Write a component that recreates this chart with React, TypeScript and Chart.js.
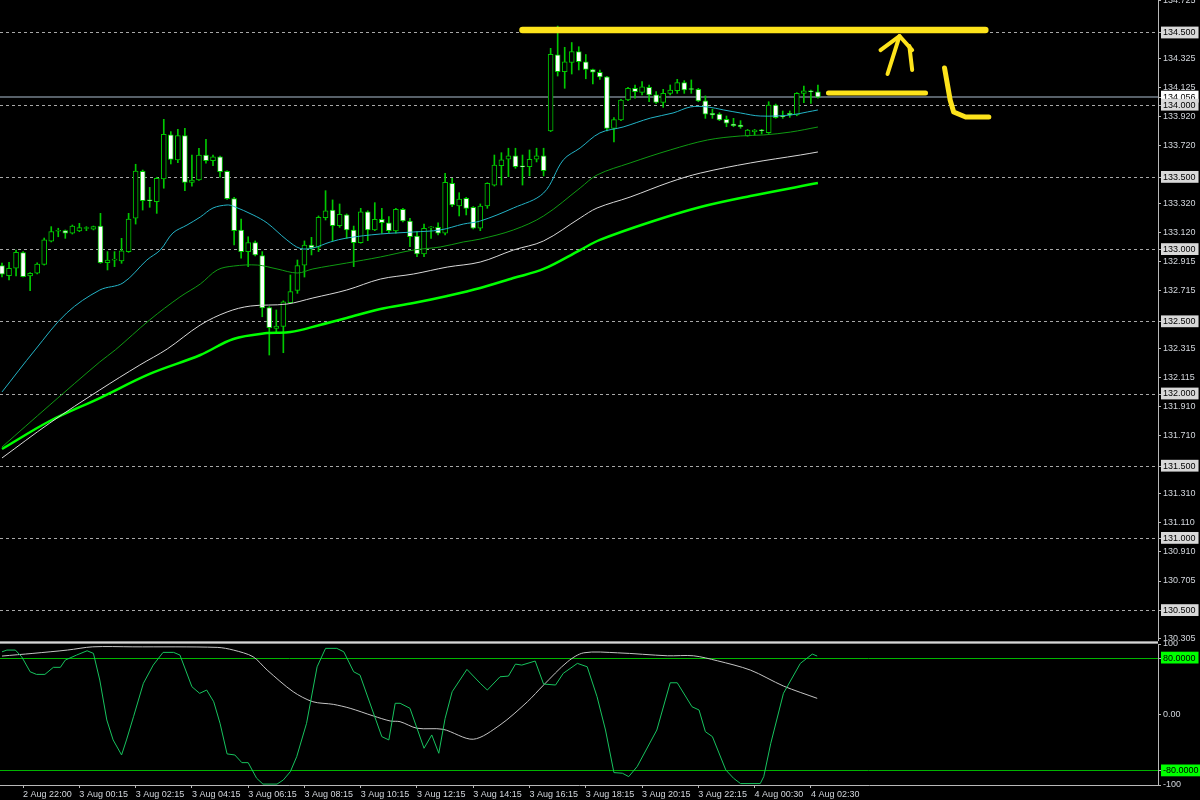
import React, { useEffect, useRef } from 'react';
import { Chart, registerables } from 'chart.js';

Chart.register(...registerables);

// ---------- candles (15 min bars, index 0 = 2 Aug 21:15) ----------
const opens = [
  132.889, 132.819, 132.871, 132.979, 132.817, 132.836, 132.898, 133.058, 133.127, 133.131,
  133.113, 133.129, 133.146, 133.141, 133.163, 132.909, 132.927, 132.921, 132.986, 133.217,
  133.542, 133.343, 133.332, 133.489, 133.794, 133.621, 133.789, 133.466, 133.482, 133.655,
  133.616, 133.643, 133.542, 133.353, 133.136, 132.986, 133.048, 132.959, 132.598, 132.455,
  132.468, 132.632, 132.717, 132.893, 133.032, 133.016, 133.221, 133.274, 133.166, 133.240,
  133.136, 133.048, 133.262, 133.136, 133.210, 133.186, 133.129, 133.279, 133.198, 133.094,
  132.970, 133.150, 133.154, 133.113, 133.459, 133.302, 133.355, 133.293, 133.148, 133.302,
  133.447, 133.581, 133.627, 133.650, 133.576, 133.574, 133.627, 133.650, 133.821, 134.348,
  134.232, 134.297, 134.371, 134.301, 134.246, 134.228, 134.197, 133.840, 133.898, 134.036,
  134.117, 134.089, 134.124, 134.071, 134.020, 134.082, 134.100, 134.156, 134.111, 134.110,
  134.031, 133.944, 133.939, 133.902, 133.870, 133.863, 133.787, 133.817, 133.825, 133.810,
  134.001, 133.922, 133.944, 133.932, 134.082, 134.095, 134.093,
];
const highs = [
  132.907, 132.912, 132.997, 132.986, 132.840, 132.909, 133.080, 133.159, 133.148, 133.136,
  133.170, 133.182, 133.159, 133.163, 133.251, 132.986, 132.986, 133.078, 133.251, 133.591,
  133.551, 133.431, 133.501, 133.902, 133.817, 133.833, 133.840, 133.655, 133.702, 133.764,
  133.655, 133.648, 133.546, 133.362, 133.212, 133.089, 133.060, 132.986, 132.605, 132.582,
  132.645, 132.824, 132.928, 133.060, 133.085, 133.233, 133.408, 133.344, 133.316, 133.247,
  133.163, 133.286, 133.269, 133.325, 133.286, 133.228, 133.286, 133.286, 133.217, 133.124,
  133.177, 133.159, 133.186, 133.528, 133.494, 133.394, 133.362, 133.298, 133.316, 133.463,
  133.655, 133.671, 133.702, 133.702, 133.655, 133.690, 133.702, 133.702, 134.394, 134.548,
  134.401, 134.434, 134.405, 134.351, 134.250, 134.244, 134.200, 133.915, 134.041, 134.124,
  134.140, 134.163, 134.140, 134.094, 134.110, 134.140, 134.179, 134.170, 134.175, 134.117,
  134.064, 133.972, 133.948, 133.925, 133.909, 133.893, 133.832, 133.832, 133.833, 134.024,
  134.008, 133.960, 133.960, 134.087, 134.133, 134.105, 134.140,
];
const lows = [
  132.810, 132.790, 132.817, 132.810, 132.715, 132.831, 132.893, 133.053, 133.089, 133.078,
  133.108, 133.124, 133.131, 133.136, 132.905, 132.859, 132.882, 132.905, 132.981, 133.177,
  133.274, 133.293, 133.251, 133.425, 133.593, 133.602, 133.408, 133.440, 133.479, 133.598,
  133.581, 133.501, 133.348, 133.032, 132.940, 132.882, 132.956, 132.535, 132.270, 132.420,
  132.286, 132.628, 132.697, 132.810, 132.963, 132.986, 133.205, 133.062, 133.154, 133.078,
  132.882, 133.044, 133.062, 133.131, 133.113, 133.113, 133.113, 133.191, 133.020, 132.951,
  132.951, 133.078, 133.101, 133.101, 133.297, 133.233, 133.240, 133.143, 133.131, 133.286,
  133.440, 133.447, 133.505, 133.563, 133.447, 133.510, 133.607, 133.510, 133.817, 134.202,
  134.117, 134.216, 134.244, 134.183, 134.147, 134.179, 133.821, 133.745, 133.893, 134.031,
  134.048, 134.071, 134.024, 134.013, 133.985, 134.071, 134.082, 134.082, 134.082, 134.024,
  133.909, 133.909, 133.893, 133.851, 133.851, 133.840, 133.785, 133.794, 133.801, 133.805,
  133.909, 133.909, 133.916, 133.927, 134.017, 134.013, 134.048,
];
const closes = [
  132.829, 132.871, 132.981, 132.812, 132.836, 132.900, 133.067, 133.124, 133.129, 133.113,
  133.163, 133.152, 133.148, 133.159, 132.909, 132.928, 132.930, 132.992, 133.212, 133.544,
  133.339, 133.338, 133.494, 133.798, 133.625, 133.789, 133.466, 133.482, 133.655, 133.616,
  133.643, 133.540, 133.353, 133.131, 132.986, 133.048, 132.963, 132.596, 132.459, 132.471,
  132.639, 132.709, 132.889, 133.032, 133.011, 133.224, 133.269, 133.166, 133.244, 133.136,
  133.048, 133.262, 133.136, 133.210, 133.186, 133.131, 133.279, 133.198, 133.089, 132.970,
  133.148, 133.153, 133.113, 133.466, 133.309, 133.350, 133.286, 133.148, 133.302, 133.459,
  133.586, 133.621, 133.650, 133.574, 133.573, 133.625, 133.650, 133.546, 134.352, 134.232,
  134.301, 134.372, 134.301, 134.247, 134.228, 134.195, 133.840, 133.900, 134.036, 134.117,
  134.094, 134.128, 134.071, 134.020, 134.082, 134.105, 134.156, 134.105, 134.109, 134.029,
  133.937, 133.932, 133.898, 133.875, 133.858, 133.851, 133.828, 133.828, 133.823, 134.001,
  133.913, 133.920, 133.932, 134.082, 134.100, 134.093, 134.056,
];

const bidPrice = 134.056;

// ---------- moving averages (bar index, price) ----------
const maCyanIdx = [0, 4.7, 9.2, 13.9, 17.2, 20.6, 22.5, 24.3, 26.3, 28.2, 30, 32, 32.9, 35.7, 37.7, 40.5, 42.4, 44.2, 46.7, 49, 53.8, 58.5, 62.3, 65.6, 68, 72.7, 77, 79.8, 82.2, 85, 88.3, 92.2, 95.4, 97.9, 100.3, 102.6, 105, 107.8, 112.1, 114.5, 116];
const maCyanVal = [132.014, 132.305, 132.561, 132.720, 132.769, 132.928, 132.997, 133.115, 133.170, 133.226, 133.288, 133.309, 133.300, 133.240, 133.184, 133.067, 133.008, 133.011, 133.053, 133.080, 133.108, 133.122, 133.136, 133.177, 133.198, 133.288, 133.392, 133.621, 133.704, 133.808, 133.849, 133.911, 133.946, 133.988, 133.988, 133.967, 133.946, 133.925, 133.932, 133.953, 133.967];

const maGreenIdx = [0, 6.8, 13.9, 16.1, 21, 25.3, 28.2, 30.6, 32.9, 36.3, 39.1, 42, 44.2, 49, 53.8, 58.5, 62.3, 65.6, 68, 72.7, 77, 82.2, 84.6, 89.3, 95, 100.3, 105, 108.3, 112.1, 116];
const maGreenVal = [131.633, 131.924, 132.222, 132.305, 132.513, 132.672, 132.762, 132.859, 132.886, 132.893, 132.866, 132.838, 132.866, 132.907, 132.949, 132.997, 133.018, 133.053, 133.073, 133.136, 133.233, 133.427, 133.517, 133.600, 133.690, 133.759, 133.787, 133.794, 133.814, 133.849];

const maWhiteIdx = [0, 6.8, 13.9, 19.6, 23.5, 28.2, 32, 35.3, 40.5, 44.2, 49, 53.8, 58.5, 63.3, 68, 72.7, 77, 82.2, 84.6, 89.3, 95, 99.3, 106.4, 113.5, 116];
const maWhiteVal = [131.557, 131.799, 132.028, 132.201, 132.312, 132.478, 132.568, 132.609, 132.623, 132.665, 132.720, 132.796, 132.831, 132.879, 132.914, 132.997, 133.060, 133.219, 133.288, 133.364, 133.468, 133.530, 133.600, 133.655, 133.676];

const maLimeIdx = [0, 6.8, 13.9, 21, 28.2, 32.9, 37.7, 41, 45.2, 49, 53.8, 58.5, 63.3, 68, 72.7, 77, 82.2, 85, 92.2, 99.3, 106.4, 116];
const maLimeVal = [131.619, 131.813, 131.972, 132.139, 132.270, 132.381, 132.422, 132.429, 132.478, 132.526, 132.589, 132.630, 132.679, 132.734, 132.803, 132.866, 132.997, 133.067, 133.191, 133.295, 133.371, 133.461];

// ---------- oscillator ----------
const oscGreenIdx = [0, 0.7, 1.9, 2.8, 4.0, 4.9, 6.1, 7.3, 8.3, 9.0, 10.6, 12.1, 13.0, 13.9, 14.9, 15.8, 17.0, 17.7, 18.7, 20.1, 21.5, 22.9, 24.4, 25.3, 27.0, 28.1, 29.1, 30.1, 31.0, 32.0, 33.1, 34.1, 35.0, 36.2, 37.1, 39.1, 40.0, 41.0, 41.9, 43.3, 44.8, 46.0, 47.6, 48.6, 50.0, 50.9, 51.9, 54.0, 55.0, 55.9, 56.6, 58.0, 60.0, 61.1, 62.1, 63.0, 64.0, 66.1, 68.0, 69.0, 70.8, 72.0, 73.0, 73.9, 75.8, 77.0, 78.7, 79.8, 81.8, 83.2, 84.6, 85.8, 87.0, 88.2, 89.1, 90.3, 93.1, 95.0, 96.0, 98.1, 99.1, 100.0, 101.0, 102.9, 104.0, 105.0, 107.8, 108.3, 109.3, 111.1, 113.5, 115.2, 115.9];
const oscGreenVal = [88.9, 91.4, 91.4, 81.9, 60.6, 56.9, 56.9, 66.9, 66.9, 77.2, 84.3, 90.4, 86.7, 48.9, -7.8, -36.1, -57.4, -36.1, -3.1, 44.2, 70.1, 88.1, 88.1, 84.3, 39.4, 30.0, 34.7, 18.1, -12.5, -55.9, -57.4, -68.3, -68.3, -90.4, -98.7, -98.7, -92.8, -81.0, -59.8, -12.5, 67.7, 93.8, 93.8, 88.9, 60.6, 55.9, 27.6, -31.4, -36.1, 15.9, 15.9, 8.8, -47.9, -29.0, -55.0, -5.4, 32.3, 64.0, 44.2, 34.7, 53.5, 54.5, 71.5, 70.1, 75.8, 43.2, 41.8, 58.4, 72.5, 67.7, 25.2, -22.0, -82.4, -83.3, -88.1, -73.9, -22.0, 45.0, 45.0, 11.0, 6.4, -24.4, -31.4, -78.6, -90.4, -98.0, -98.0, -88.1, -40.8, 30.0, 72.5, 85.7, 82.9];

const oscSilverIdx = [0, 4.4, 9.3, 12.9, 18.6, 30.6, 32.9, 35.7, 37.7, 41.4, 44.2, 47.1, 49.5, 52.8, 55.2, 56.6, 59.0, 62.7, 67.0, 70.8, 74.7, 77.0, 80.4, 82.7, 87.5, 94.6, 98.3, 101.7, 106.4, 111.1, 115.9];
const oscSilverVal = [82.9, 86.7, 91.4, 96, 96, 95.2, 91.4, 81.9, 63, 32.3, 18.1, 14.4, 8.8, -2.1, -9.2, -10.2, -19.5, -21, -35.1, -14.9, 18.1, 41.8, 74.8, 87.5, 87.5, 83.3, 83.3, 76.2, 63, 40.4, 22.9];

// ---------- axes ----------
const priceTicks = [134.725, 134.5, 134.325, 134.125, 134.056, 134.0, 133.92, 133.72, 133.5, 133.32, 133.12, 133.0, 132.915, 132.715, 132.5, 132.315, 132.115, 132.0, 131.91, 131.71, 131.5, 131.31, 131.11, 131.0, 130.91, 130.705, 130.5, 130.305];
const roundLevels = [134.5, 134.0, 133.5, 133.0, 132.5, 132.0, 131.5, 131.0, 130.5];
const priceMin = 130.2895;
const priceMax = 134.7285;

const timeTickIndex = [3, 11, 19, 27, 35, 43, 51, 59, 67, 75, 83, 91, 99, 107, 115];
const timeTickLabels = ['2 Aug 22:00', '3 Aug 00:15', '3 Aug 02:15', '3 Aug 04:15', '3 Aug 06:15', '3 Aug 08:15', '3 Aug 10:15', '3 Aug 12:15', '3 Aug 14:15', '3 Aug 16:15', '3 Aug 18:15', '3 Aug 20:15', '3 Aug 22:15', '4 Aug 00:30', '4 Aug 02:30'];
const xMin = -0.284;
const xMax = 164.35;

const oscTickValues = [100, 80, 0, -80, -100];
const oscTickLabels = ['100', '80.0000', '0.00', '-80.0000', '-100'];
const oscLevels = [80, -80];

// ---------- hand-drawn yellow annotations (bar index, price) ----------
const noteTopIdx = [74, 139.8];
const noteTopPrice = [134.521, 134.521];
const noteShortIdx = [117.5, 131.3];
const noteShortPrice = [134.084, 134.084];
const arrowShaftIdx = [125.9, 127.6];
const arrowShaftPrice = [134.216, 134.479];
const arrowHeadIdx = [124.9, 127.6, 129.4];
const arrowHeadPrice = [134.382, 134.479, 134.382];
const arrowLegIdx = [129.0, 129.4];
const arrowLegPrice = [134.41, 134.244];
const letterLIdx = [134, 134.8, 135.3, 137, 140.3];
const letterLPrice = [134.258, 134.036, 133.953, 133.918, 133.918];

const FONT = 'Liberation Sans';
const near = (a: number, b: number) => Math.abs(a - b) < 1e-6;
const pairs = (xs: number[], ys: number[]) => xs.map((x, i) => ({ x, y: ys[i] }));

export default function App() {
  const mainRef = useRef<HTMLCanvasElement | null>(null);
  const oscRef = useRef<HTMLCanvasElement | null>(null);

  useEffect(() => {
    document.body.style.margin = '0';
    document.body.style.background = '#000';
    Chart.defaults.font.family = FONT;

    const strokes = [
      { idx: noteTopIdx, price: noteTopPrice, w: 6.5 },
      { idx: noteShortIdx, price: noteShortPrice, w: 5 },
      { idx: arrowShaftIdx, price: arrowShaftPrice, w: 4 },
      { idx: arrowHeadIdx, price: arrowHeadPrice, w: 4 },
      { idx: arrowLegIdx, price: arrowLegPrice, w: 4 },
      { idx: letterLIdx, price: letterLPrice, w: 5 },
    ];

    const notesPlugin = {
      id: 'notes',
      afterDatasetsDraw(chart: any) {
        const { ctx } = chart;
        const xs = chart.scales.x;
        const ys = chart.scales.y;
        ctx.save();
        ctx.strokeStyle = '#fde31b';
        ctx.lineCap = 'round';
        ctx.lineJoin = 'round';
        strokes.forEach((s) => {
          ctx.lineWidth = s.w;
          ctx.beginPath();
          s.idx.forEach((v, k) => {
            const px = xs.getPixelForValue(v);
            const py = ys.getPixelForValue(s.price[k]);
            if (k === 0) ctx.moveTo(px, py);
            else ctx.lineTo(px, py);
          });
          ctx.stroke();
        });
        ctx.restore();
      },
    };

    const candleIdx = opens.map((_, i) => i);
    const CANDLE = '#00c800';

    const main = new Chart(mainRef.current as HTMLCanvasElement, {
      type: 'bar',
      data: {
        datasets: [
          { type: 'line', data: pairs(maCyanIdx, maCyanVal), borderColor: '#23b3c6', borderWidth: 1, pointRadius: 0, tension: 0.35, order: 0 } as any,
          { type: 'line', data: pairs(maGreenIdx, maGreenVal), borderColor: '#0f9a12', borderWidth: 1, pointRadius: 0, tension: 0.35, order: 0 } as any,
          { type: 'line', data: pairs(maWhiteIdx, maWhiteVal), borderColor: '#d8d8d8', borderWidth: 1, pointRadius: 0, tension: 0.35, order: 0 } as any,
          { type: 'line', data: pairs(maLimeIdx, maLimeVal), borderColor: '#00ff00', borderWidth: 2.5, pointRadius: 0, tension: 0.35, order: 0 } as any,
          {
            type: 'bar',
            data: candleIdx.map((i) => ({ x: i, y: [opens[i], closes[i]] })),
            backgroundColor: (c: any) => {
              const r = c.raw;
              return r && r.y[1] >= r.y[0] ? '#000000' : '#ffffff';
            },
            borderColor: CANDLE,
            borderWidth: 1,
            borderSkipped: false,
            barThickness: 5,
            minBarLength: 1,
            grouped: false,
            order: 5,
          } as any,
          {
            type: 'bar',
            data: candleIdx.map((i) => ({ x: i, y: [lows[i], highs[i]] })),
            backgroundColor: CANDLE,
            borderWidth: 0,
            barThickness: 1,
            grouped: false,
            order: 6,
          } as any,
          {
            type: 'line',
            data: [{ x: xMin, y: bidPrice }, { x: xMax, y: bidPrice }],
            borderColor: '#74808c',
            borderWidth: 1.5,
            pointRadius: 0,
            order: 10,
          } as any,
        ],
      },
      options: {
        responsive: true,
        maintainAspectRatio: false,
        animation: false,
        events: [],
        layout: { padding: 0 },
        plugins: { legend: { display: false }, tooltip: { enabled: false } },
        scales: {
          x: { type: 'linear', min: xMin, max: xMax, display: false, offset: false },
          y: {
            type: 'linear',
            position: 'right',
            min: priceMin,
            max: priceMax,
            afterBuildTicks: (s: any) => {
              s.ticks = priceTicks.map((v) => ({ value: v }));
            },
            afterFit: (s: any) => {
              s.width = 42;
              s.paddingTop = 0;
              s.paddingBottom = 0;
            },
            ticks: {
              autoSkip: false,
              padding: 2,
              font: { family: FONT, size: 9 },
              callback: (v: any) => Number(v).toFixed(3),
              color: (c: any) => {
                const v = c.tick ? c.tick.value : 0;
                return roundLevels.some((r) => near(r, v)) || near(v, bidPrice) ? '#000000' : '#d2d6dc';
              },
              showLabelBackdrop: (c: any) => {
                const v = c.tick ? c.tick.value : 0;
                return roundLevels.some((r) => near(r, v)) || near(v, bidPrice);
              },
              backdropColor: (c: any) => {
                const v = c.tick ? c.tick.value : 0;
                return near(v, bidPrice) ? '#ffffff' : '#d8d8d8';
              },
              backdropPadding: { top: 1, bottom: 0, left: 2, right: 3 },
            } as any,
            grid: {
              color: (c: any) => {
                const v = c.tick ? c.tick.value : 0;
                return roundLevels.some((r) => near(r, v)) ? '#a8a8a8' : 'rgba(0,0,0,0)';
              },
              lineWidth: 1,
              drawTicks: true,
              tickLength: 3,
              tickColor: '#b8b8b8',
            },
            border: { display: true, color: '#b8b8b8', width: 1, dash: [3, 3] },
          } as any,
        },
      },
      plugins: [notesPlugin],
    });

    const separatorPlugin = {
      id: 'separator',
      beforeDatasetsDraw(chart: any) {
        const { ctx, chartArea } = chart;
        ctx.save();
        ctx.fillStyle = '#8c8c8c';
        ctx.fillRect(0, 0, chartArea.right, 3);
        ctx.fillStyle = '#d6d6d6';
        ctx.fillRect(0, 1, chartArea.right, 1);
        ctx.restore();
      },
    };

    const osc = new Chart(oscRef.current as HTMLCanvasElement, {
      type: 'line',
      data: {
        datasets: [
          { data: pairs(oscGreenIdx, oscGreenVal), borderColor: '#17c35e', borderWidth: 1, pointRadius: 0, tension: 0, order: 0 },
          { data: pairs(oscSilverIdx, oscSilverVal), borderColor: '#c4c4c4', borderWidth: 1, pointRadius: 0, tension: 0.3, order: 1 },
        ],
      },
      options: {
        responsive: true,
        maintainAspectRatio: false,
        animation: false,
        events: [],
        layout: { padding: { top: 3, left: 0, right: 0, bottom: 0 } },
        plugins: { legend: { display: false }, tooltip: { enabled: false } },
        scales: {
          x: {
            type: 'linear',
            position: 'bottom',
            min: xMin,
            max: xMax,
            afterBuildTicks: (s: any) => {
              s.ticks = timeTickIndex.map((v) => ({ value: v }));
            },
            afterFit: (s: any) => {
              s.height = 15;
              s.paddingLeft = 0;
              s.paddingRight = 0;
            },
            ticks: {
              autoSkip: false,
              maxRotation: 0,
              minRotation: 0,
              align: 'start',
              padding: 1,
              color: '#d2d6dc',
              font: { family: FONT, size: 9 },
              callback: (_v: any, i: number) => timeTickLabels[i] ?? '',
            },
            grid: { drawOnChartArea: false, drawTicks: true, tickLength: 3, tickColor: '#b8b8b8' },
            border: { display: true, color: '#b8b8b8' },
          } as any,
          y: {
            type: 'linear',
            position: 'right',
            min: -100,
            max: 100,
            afterBuildTicks: (s: any) => {
              s.ticks = oscTickValues.map((v) => ({ value: v }));
            },
            afterFit: (s: any) => {
              s.width = 42;
              s.paddingTop = 0;
              s.paddingBottom = 0;
            },
            ticks: {
              autoSkip: false,
              padding: 2,
              font: { family: FONT, size: 9 },
              callback: (_v: any, i: number) => oscTickLabels[i] ?? '',
              color: (c: any) => (c.tick && oscLevels.includes(c.tick.value) ? '#000000' : '#d2d6dc'),
              showLabelBackdrop: (c: any) => !!(c.tick && oscLevels.includes(c.tick.value)),
              backdropColor: '#00ff00',
              backdropPadding: { top: 1, bottom: 0, left: 2, right: 3 },
            } as any,
            grid: {
              color: (c: any) => (c.tick && oscLevels.includes(c.tick.value) ? '#00b400' : 'rgba(0,0,0,0)'),
              lineWidth: 1,
              drawTicks: true,
              tickLength: 3,
              tickColor: '#b8b8b8',
            },
            border: { display: true, color: '#b8b8b8' },
          } as any,
        },
      },
      plugins: [separatorPlugin],
    });

    return () => {
      main.destroy();
      osc.destroy();
    };
  }, []);

  return (
    <div style={{ position: 'relative', width: 1200, height: 800, background: '#000', overflow: 'hidden' }}>
      <div style={{ position: 'absolute', left: 0, top: 0, width: 1200, height: 641 }}>
        <canvas ref={mainRef} />
      </div>
      <div style={{ position: 'absolute', left: 0, top: 641, width: 1200, height: 159 }}>
        <canvas ref={oscRef} />
      </div>
    </div>
  );
}
